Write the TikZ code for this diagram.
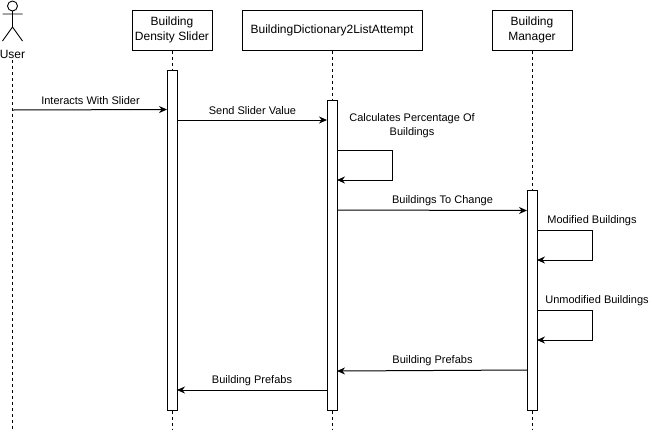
\documentclass[tikz,border=0pt]{standalone}
\usepackage{fontspec}
\setmainfont{Liberation Sans}
\usetikzlibrary{arrows.meta}
\tikzset{
  x=1pt,y=-1pt,
  lifebox/.style={draw=black,fill=white,line width=1pt,minimum height=40pt,inner sep=0pt,align=center,font=\fontsize{12}{15}\selectfont},
  activation/.style={draw=black,fill=white,line width=1pt,minimum width=10pt,inner sep=0pt},
  lifeline/.style={draw=black,line width=1pt,dash pattern=on 3pt off 3pt},
  msg/.style={draw=black,line width=1pt,-{Stealth[length=8pt,width=7pt]}},
  msglabel/.style={inner sep=0pt,align=center,font=\fontsize{11}{14}\selectfont},
  actorline/.style={draw=black,line width=0.9pt}
}
\begin{document}
\begin{tikzpicture}
\useasboundingbox (0,0) rectangle (653,432);
\fill[white] (0,0) rectangle (653,432);
% lifelines
\coordinate (uT) at (12.5,60);
\coordinate (uB) at (12.5,430);
\node[lifebox,minimum width=80pt] (slider) at (172,30) {Building\\Density Slider};
\node[lifebox,minimum width=180pt] (dict) at (332,30) {BuildingDictionary2ListAttempt};
\node[lifebox,minimum width=80pt] (mgr) at (532,30) {Building\\Manager};
\coordinate (sB) at (172,430);
\coordinate (dB) at (332,430);
\coordinate (mB) at (532,430);
\draw[lifeline] (uT) -- (uB);
\draw[lifeline] (slider.south) -- (sB);
\draw[lifeline] (dict.south) -- (dB);
\draw[lifeline] (mgr.south) -- (mB);
% actor
\draw[actorline,fill=white] (12.5,6) circle (5);
\draw[actorline] (12.5,11) -- (12.5,27) (2.5,14) -- (22.5,14) (2.5,41) -- (12.5,27) -- (22.5,41);
\node[inner sep=0pt,font=\fontsize{12}{14}\selectfont] (user) at (12.5,54) {User};
% activations
\node[activation,minimum height=340pt] (a1) at (172,240) {};
\node[activation,minimum height=310pt] (a2) at (332,255) {};
\node[activation,minimum height=220pt] (a3) at (532,300) {};
% anchors on bars
\coordinate (u1) at (12.5,110);
\coordinate (a1i) at (167,109.5);
\coordinate (a1o) at (177,120);
\coordinate (a2i) at (327,120);
\coordinate (a2s) at (337,150);
\coordinate (a2sa) at (392.5,150);
\coordinate (a2sb) at (392.5,180);
\coordinate (a2e) at (337,180);
\coordinate (a2o) at (337,210);
\coordinate (a3i) at (527,210.5);
\coordinate (a3s1) at (537,230);
\coordinate (a3s1a) at (592.5,230);
\coordinate (a3s1b) at (592.5,260);
\coordinate (a3e1) at (537,260);
\coordinate (a3s2) at (537,310);
\coordinate (a3s2a) at (592.5,310);
\coordinate (a3s2b) at (592.5,340);
\coordinate (a3e2) at (537,340);
\coordinate (a3o) at (527,370);
\coordinate (a2r) at (337,371);
\coordinate (a2l) at (327,390);
\coordinate (a1r) at (177,390);
% messages
\draw[msg] (u1) -- (a1i);
\draw[msg] (a1o) -- (a2i);
\draw[msg] (a2s) -- (a2sa) -- (a2sb) -- (a2e);
\draw[msg] (a2o) -- (a3i);
\draw[msg] (a3s1) -- (a3s1a) -- (a3s1b) -- (a3e1);
\draw[msg] (a3s2) -- (a3s2a) -- (a3s2b) -- (a3e2);
\draw[msg] (a3o) -- (a2r);
\draw[msg] (a2l) -- (a1r);
% labels
\node[msglabel] (l1) at (90.5,101) {Interacts With Slider};
\node[msglabel] (l2) at (252.5,110.5) {Send Slider Value};
\node[msglabel] (l3) at (412,126) {Calculates Percentage Of\\Buildings};
\node[msglabel] (l4) at (442.5,200.5) {Buildings To Change};
\node[msglabel] (l5) at (592,221) {Modified Buildings};
\node[msglabel] (l6) at (597,301) {Unmodified Buildings};
\node[msglabel] (l7) at (432.5,360.5) {Building Prefabs};
\node[msglabel] (l8) at (252,381) {Building Prefabs};
\end{tikzpicture}
\end{document}
